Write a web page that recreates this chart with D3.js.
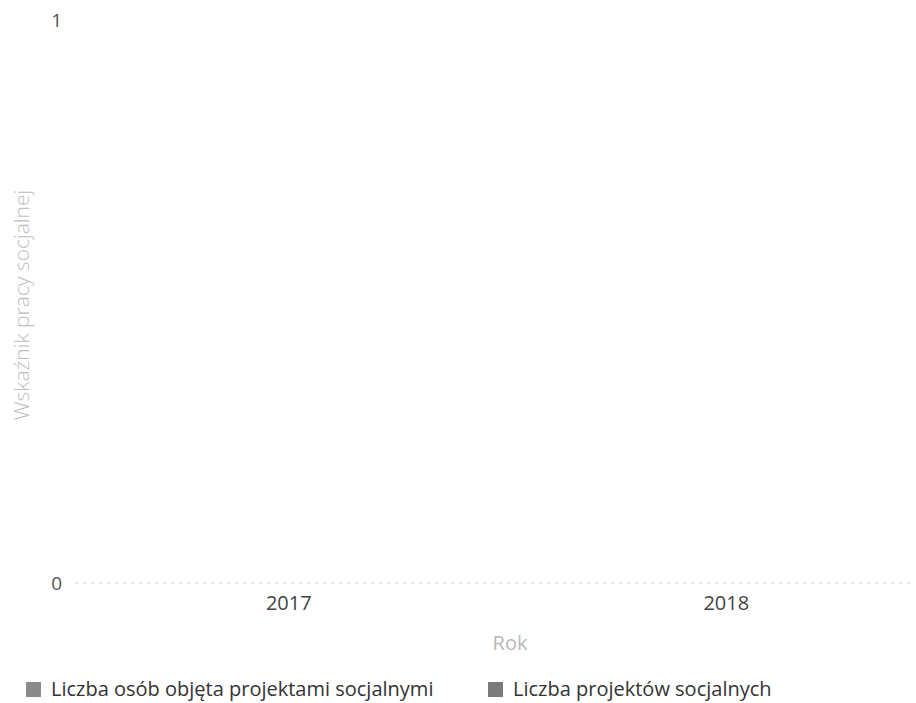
<!DOCTYPE html>
<html><head><meta charset="utf-8">
<script src="https://cdn.jsdelivr.net/npm/d3@7"></script>
<style>body{margin:0;background:#fff;font-family:"Open Sans",sans-serif}</style>
</head><body>
<svg id="c" width="916" height="703"></svg>
<script>
const years = ["2017", "2018"];
const seriesNames = ["Liczba osób objęta projektami socjalnymi", "Liczba projektów socjalnych"];
const osoby = [0, 0];
const projekty = [0, 0];
const yTicks = [0, 1];
const yTitle = "Wskaźnik pracy socjalnej";
const xTitle = "Rok";

const svg = d3.select("#c");
const plot = {left: 75, right: 912, top: 20, bottom: 583};
const x = d3.scaleBand().domain(years).range([70, 945]).paddingInner(0);
const y = d3.scaleLinear().domain([0, 1]).range([plot.bottom, plot.top]);
const colors = ["#8a8a8a", "#7a7a7a"];

// gridline
svg.append("g").selectAll("line").data(yTicks.filter(d=>d===0)).join("line")
  .attr("x1", plot.left).attr("x2", plot.right)
  .attr("y1", d=>y(d)).attr("y2", d=>y(d))
  .attr("stroke", "#d0d0d0").attr("stroke-dasharray", "3,5").attr("stroke-width", 1);

// y tick labels
svg.append("g").selectAll("text").data(yTicks).join("text")
  .attr("x", 62).attr("y", d=>y(d)).attr("dy", "0.35em")
  .attr("text-anchor", "end").attr("font-size", 19).attr("fill", "#555").text(d=>d);

// bars (zero values)
const sub = d3.scaleBand().domain([0,1]).range([x.bandwidth()*0.1, x.bandwidth()*0.9]).padding(0.1);
[osoby, projekty].forEach((vals, si) => {
  svg.append("g").selectAll("rect").data(vals).join("rect")
    .attr("x", (d,i)=>x(years[i]) + sub(si)).attr("width", sub.bandwidth())
    .attr("y", d=>y(d)).attr("height", d=>y(0)-y(d)).attr("fill", colors[si]);
});

// x tick labels
svg.append("g").selectAll("text").data(years).join("text")
  .attr("x", d=>x(d)+x.bandwidth()/2).attr("y", 610)
  .attr("text-anchor", "middle").attr("font-size", 20).attr("fill", "#444").text(d=>d);

// axis titles
svg.append("text").attr("x", 510).attr("y", 650).attr("text-anchor", "middle")
  .attr("font-size", 20).attr("fill", "#b8b8b8").text(xTitle);
svg.append("text").attr("transform", "translate(29,305) rotate(-90)")
  .attr("text-anchor", "middle").attr("font-size", 21).attr("font-weight", 300).attr("fill", "#bdbdbd").text(yTitle);

// legend
const legX = [26, 488];
const lg = svg.append("g").selectAll("g").data(seriesNames).join("g")
  .attr("transform", (d,i)=>`translate(${legX[i]},682)`);
lg.append("rect").attr("width", 15).attr("height", 15).attr("fill", (d,i)=>colors[i]);
lg.append("text").attr("x", 25).attr("y", 14).attr("font-size", 20).attr("fill", "#333").text(d=>d);
</script>
</body></html>
